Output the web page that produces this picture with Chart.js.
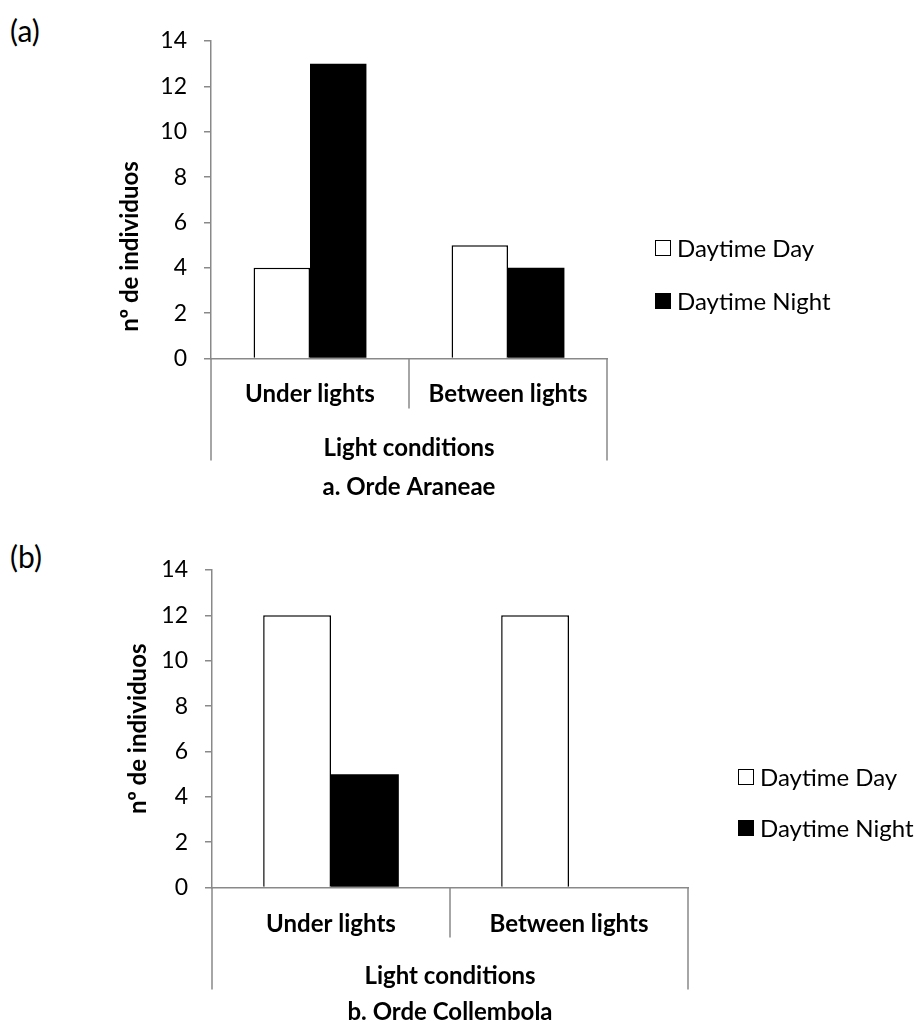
<!DOCTYPE html>
<html>
<head>
<meta charset="utf-8">
<script src="https://cdn.jsdelivr.net/npm/chart.js@4.4.0/dist/chart.umd.min.js"></script>
<style>
body { margin: 0; background: #fff; width: 916px; height: 1022px; position: relative; overflow: hidden; font-family: Lato, sans-serif; color: #000; }
.panel { position: absolute; left: 10px; font-size: 30px; line-height: 30px; }
canvas { position: absolute; left: 0; }
.legend-item { position: absolute; font-size: 24px; line-height: 28px; white-space: nowrap; }
.legend-item .box { position: absolute; left: 0; top: 6px; width: 16px; height: 16px; box-sizing: border-box; border: 1.5px solid #000; }
.legend-item .txt { position: absolute; left: 22px; top: 0; }
</style>
</head>
<body>
<div class="panel" style="top:15px">(a)</div>
<canvas id="chartA" width="916" height="510" style="top:0"></canvas>
<div class="panel" style="top:541px">(b)</div>
<canvas id="chartB" width="916" height="514" style="top:513px"></canvas>

<script>
var categories = ['Under lights', 'Between lights'];
var seriesNames = ['Daytime Day', 'Daytime Night'];
var araneaeDay = [4, 5];
var araneaeNight = [13, 4];
var collembolaDay = [12, 12];
var collembolaNight = [5, 0];
var yMin = 0, yMax = 14, yStep = 2;

Chart.defaults.font.family = 'Lato, sans-serif';
Chart.defaults.color = '#000';

var axisGrey = '#898989';

// excel style category brackets under the x axis
var dividers = {
    id: 'dividers',
    afterDraw: function(chart, args, opts) {
        var x = chart.scales.x, ctx = chart.ctx;
        var n = chart.data.labels.length;
        var step = (x.right - x.left) / n;
        ctx.save();
        ctx.strokeStyle = axisGrey;
        ctx.lineWidth = 1.5;
        for (var i = 0; i <= n; i++) {
            var px = x.left + step * i;
            var len = (i === 0 || i === n) ? opts.outer : opts.inner;
            ctx.beginPath();
            ctx.moveTo(px, x.top);
            ctx.lineTo(px, x.top + len);
            ctx.stroke();
        }
        ctx.restore();
    }
};

function makeChart(id, day, night, title, yTitle, lay) {
    var ctx = document.getElementById(id).getContext('2d');
    return new Chart(ctx, {
        type: 'bar',
        plugins: [dividers],
        data: {
            labels: categories,
            datasets: [{
                label: seriesNames[0],
                data: day,
                backgroundColor: '#ffffff',
                borderColor: '#000000',
                borderWidth: 1.5,
                categoryPercentage: 0.57,
                barPercentage: 1
            }, {
                label: seriesNames[1],
                data: night,
                backgroundColor: '#000000',
                borderColor: '#000000',
                borderWidth: 0,
                categoryPercentage: 0.57,
                barPercentage: 1
            }]
        },
        options: {
            responsive: false,
            animation: false,
            devicePixelRatio: 1,
            layout: { padding: { left: lay.left, right: lay.right, top: lay.top, bottom: 0 } },
            scales: {
                x: {
                    grid: { display: false, drawTicks: false },
                    border: { display: true, color: axisGrey, width: 1.5 },
                    ticks: { font: { size: 24, weight: 'bold' }, padding: lay.tickPad },
                    title: {
                        display: true, text: 'Light conditions',
                        font: { size: 24, weight: 'bold' },
                        padding: { top: lay.xTitlePad, bottom: 0 }
                    }
                },
                y: {
                    min: yMin, max: yMax,
                    ticks: { stepSize: yStep, font: { size: 23 }, padding: 17 },
                    grid: { drawOnChartArea: false, tickLength: 7, color: axisGrey, lineWidth: 1.5 },
                    border: { color: axisGrey, width: 1.5 },
                    title: {
                        display: true, text: yTitle,
                        font: { size: 24, weight: 'bold' },
                        padding: 0
                    },
                    afterFit: function(s) { s.width = lay.yWidth; }
                }
            },
            plugins: {
                tooltip: { enabled: false },
                legend: { display: false },
                dividers: { inner: 50, outer: 102 },
                title: {
                    display: true, text: title, position: 'bottom', fullSize: false,
                    font: { size: 24, weight: 'bold' },
                    padding: { top: lay.titlePad, bottom: lay.titleBottom }
                }
            }
        }
    });
}

// legend drawn as html next to the plot, built from the chart's own legend items
function addLegend(chart, dx, dy, gap) {
    var items = Chart.defaults.plugins.legend.labels.generateLabels(chart);
    var area = chart.chartArea;
    var top0 = chart.canvas.offsetTop;
    items.forEach(function(item, i) {
        var div = document.createElement('div');
        div.className = 'legend-item';
        div.style.left = (area.right + dx) + 'px';
        div.style.top = (top0 + area.top + dy + i * gap - 14) + 'px';
        div.innerHTML = '<span class="box" style="background:' + item.fillStyle + '"></span><span class="txt">' + item.text + '</span>';
        document.body.appendChild(div);
    });
}

var spaces = '                ';
var chartA = makeChart('chartA', araneaeDay, araneaeNight, 'a. Orde Araneae', 'nº de individuos' + spaces,
    { left: 115.6, right: 309, top: 41, tickPad: 21, xTitlePad: 4, titlePad: 11, titleBottom: 8, yWidth: 95.4 });
var chartB = makeChart('chartB', collembolaDay, collembolaNight, 'b. Orde Collembola', 'nº de individuos',
    { left: 124, right: 228, top: 57, tickPad: 22, xTitlePad: 1, titlePad: 8, titleBottom: 0, yWidth: 88 });

addLegend(chartA, 48, 206.5, 53);
addLegend(chartB, 50, 207, 51);
</script>
</body>
</html>
